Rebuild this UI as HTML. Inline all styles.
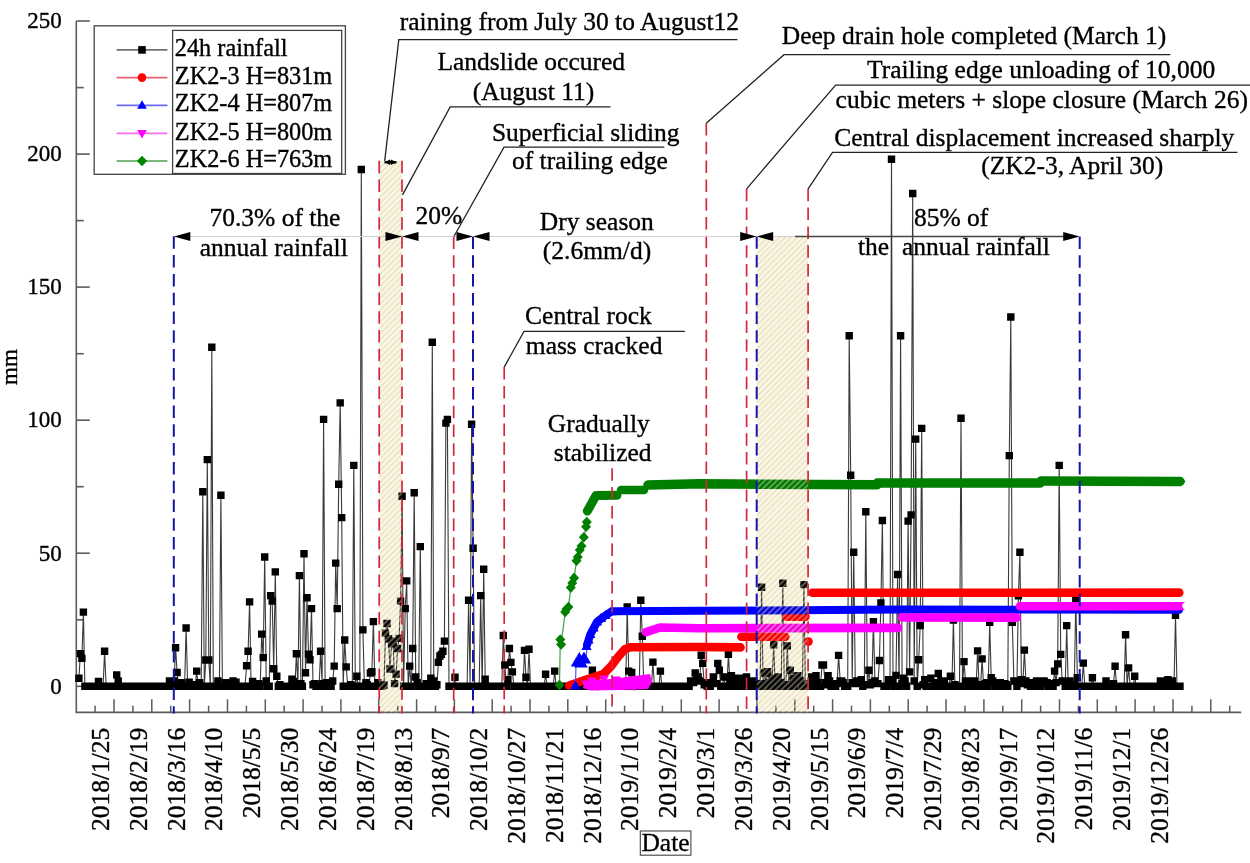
<!DOCTYPE html>
<html><head><meta charset="utf-8"><style>
html,body{margin:0;padding:0;background:#fff;width:1250px;height:863px;overflow:hidden}
svg{display:block}
text{font-family:"Liberation Serif",serif;fill:#000;stroke:#000;stroke-width:0.35px}
.an{font-size:25.5px}
.xl{font-size:25.5px}
.yl{font-size:23px}
.lg{font-size:24.3px}
</style></head><body>
<svg width="1250" height="863" viewBox="0 0 1250 863">
<rect width="1250" height="863" fill="#fff"/>
<defs>
<pattern id="hatchA" patternUnits="userSpaceOnUse" width="4.2" height="4.2" patternTransform="rotate(45)">
<rect width="4.2" height="4.2" fill="#fdfbf0"/>
<rect x="0" y="0" width="1.4" height="4.2" fill="#e9e0bc"/>
</pattern>
<pattern id="hatchB" patternUnits="userSpaceOnUse" width="4.2" height="4.2" patternTransform="rotate(45)">
<rect x="2.1" y="0" width="1.6" height="4.2" fill="#f4ecd0" fill-opacity="0.45"/>
</pattern>
</defs>
<path d="M76.3 20.9V712.4H1241.2" fill="none" stroke="#5c5c5c" stroke-width="1.6"/>
<line x1="76.3" y1="686.3" x2="89.8" y2="686.3" stroke="#5c5c5c" stroke-width="1.6"/>
<line x1="76.3" y1="619.8" x2="83.8" y2="619.8" stroke="#5c5c5c" stroke-width="1.6"/>
<line x1="76.3" y1="553.2" x2="89.8" y2="553.2" stroke="#5c5c5c" stroke-width="1.6"/>
<line x1="76.3" y1="486.7" x2="83.8" y2="486.7" stroke="#5c5c5c" stroke-width="1.6"/>
<line x1="76.3" y1="420.2" x2="89.8" y2="420.2" stroke="#5c5c5c" stroke-width="1.6"/>
<line x1="76.3" y1="353.7" x2="83.8" y2="353.7" stroke="#5c5c5c" stroke-width="1.6"/>
<line x1="76.3" y1="287.1" x2="89.8" y2="287.1" stroke="#5c5c5c" stroke-width="1.6"/>
<line x1="76.3" y1="220.6" x2="83.8" y2="220.6" stroke="#5c5c5c" stroke-width="1.6"/>
<line x1="76.3" y1="154.1" x2="89.8" y2="154.1" stroke="#5c5c5c" stroke-width="1.6"/>
<line x1="76.3" y1="87.6" x2="83.8" y2="87.6" stroke="#5c5c5c" stroke-width="1.6"/>
<line x1="76.3" y1="21.0" x2="89.8" y2="21.0" stroke="#5c5c5c" stroke-width="1.6"/>
<text x="61.8" y="693.5" text-anchor="end" class="yl">0</text>
<text x="61.8" y="560.5" text-anchor="end" class="yl">50</text>
<text x="61.8" y="427.4" text-anchor="end" class="yl">100</text>
<text x="61.8" y="294.3" text-anchor="end" class="yl">150</text>
<text x="61.8" y="161.3" text-anchor="end" class="yl">200</text>
<text x="61.8" y="28.2" text-anchor="end" class="yl">250</text>
<line x1="114.0" y1="712.4" x2="114.0" y2="699.3" stroke="#5c5c5c" stroke-width="1.5"/>
<line x1="151.8" y1="712.4" x2="151.8" y2="699.3" stroke="#5c5c5c" stroke-width="1.5"/>
<line x1="189.6" y1="712.4" x2="189.6" y2="699.3" stroke="#5c5c5c" stroke-width="1.5"/>
<line x1="227.5" y1="712.4" x2="227.5" y2="699.3" stroke="#5c5c5c" stroke-width="1.5"/>
<line x1="265.3" y1="712.4" x2="265.3" y2="699.3" stroke="#5c5c5c" stroke-width="1.5"/>
<line x1="303.1" y1="712.4" x2="303.1" y2="699.3" stroke="#5c5c5c" stroke-width="1.5"/>
<line x1="340.9" y1="712.4" x2="340.9" y2="699.3" stroke="#5c5c5c" stroke-width="1.5"/>
<line x1="378.7" y1="712.4" x2="378.7" y2="699.3" stroke="#5c5c5c" stroke-width="1.5"/>
<line x1="416.6" y1="712.4" x2="416.6" y2="699.3" stroke="#5c5c5c" stroke-width="1.5"/>
<line x1="454.4" y1="712.4" x2="454.4" y2="699.3" stroke="#5c5c5c" stroke-width="1.5"/>
<line x1="492.2" y1="712.4" x2="492.2" y2="699.3" stroke="#5c5c5c" stroke-width="1.5"/>
<line x1="530.0" y1="712.4" x2="530.0" y2="699.3" stroke="#5c5c5c" stroke-width="1.5"/>
<line x1="567.8" y1="712.4" x2="567.8" y2="699.3" stroke="#5c5c5c" stroke-width="1.5"/>
<line x1="605.7" y1="712.4" x2="605.7" y2="699.3" stroke="#5c5c5c" stroke-width="1.5"/>
<line x1="643.5" y1="712.4" x2="643.5" y2="699.3" stroke="#5c5c5c" stroke-width="1.5"/>
<line x1="681.3" y1="712.4" x2="681.3" y2="699.3" stroke="#5c5c5c" stroke-width="1.5"/>
<line x1="719.1" y1="712.4" x2="719.1" y2="699.3" stroke="#5c5c5c" stroke-width="1.5"/>
<line x1="756.9" y1="712.4" x2="756.9" y2="699.3" stroke="#5c5c5c" stroke-width="1.5"/>
<line x1="794.8" y1="712.4" x2="794.8" y2="699.3" stroke="#5c5c5c" stroke-width="1.5"/>
<line x1="832.6" y1="712.4" x2="832.6" y2="699.3" stroke="#5c5c5c" stroke-width="1.5"/>
<line x1="870.4" y1="712.4" x2="870.4" y2="699.3" stroke="#5c5c5c" stroke-width="1.5"/>
<line x1="908.2" y1="712.4" x2="908.2" y2="699.3" stroke="#5c5c5c" stroke-width="1.5"/>
<line x1="946.0" y1="712.4" x2="946.0" y2="699.3" stroke="#5c5c5c" stroke-width="1.5"/>
<line x1="983.9" y1="712.4" x2="983.9" y2="699.3" stroke="#5c5c5c" stroke-width="1.5"/>
<line x1="1021.7" y1="712.4" x2="1021.7" y2="699.3" stroke="#5c5c5c" stroke-width="1.5"/>
<line x1="1059.5" y1="712.4" x2="1059.5" y2="699.3" stroke="#5c5c5c" stroke-width="1.5"/>
<line x1="1097.3" y1="712.4" x2="1097.3" y2="699.3" stroke="#5c5c5c" stroke-width="1.5"/>
<line x1="1135.1" y1="712.4" x2="1135.1" y2="699.3" stroke="#5c5c5c" stroke-width="1.5"/>
<line x1="1173.0" y1="712.4" x2="1173.0" y2="699.3" stroke="#5c5c5c" stroke-width="1.5"/>
<line x1="1210.8" y1="712.4" x2="1210.8" y2="699.3" stroke="#5c5c5c" stroke-width="1.5"/>
<line x1="95.1" y1="712.4" x2="95.1" y2="705.7" stroke="#5c5c5c" stroke-width="1.5"/>
<line x1="132.9" y1="712.4" x2="132.9" y2="705.7" stroke="#5c5c5c" stroke-width="1.5"/>
<line x1="170.7" y1="712.4" x2="170.7" y2="705.7" stroke="#5c5c5c" stroke-width="1.5"/>
<line x1="208.6" y1="712.4" x2="208.6" y2="705.7" stroke="#5c5c5c" stroke-width="1.5"/>
<line x1="246.4" y1="712.4" x2="246.4" y2="705.7" stroke="#5c5c5c" stroke-width="1.5"/>
<line x1="284.2" y1="712.4" x2="284.2" y2="705.7" stroke="#5c5c5c" stroke-width="1.5"/>
<line x1="322.0" y1="712.4" x2="322.0" y2="705.7" stroke="#5c5c5c" stroke-width="1.5"/>
<line x1="359.8" y1="712.4" x2="359.8" y2="705.7" stroke="#5c5c5c" stroke-width="1.5"/>
<line x1="397.7" y1="712.4" x2="397.7" y2="705.7" stroke="#5c5c5c" stroke-width="1.5"/>
<line x1="435.5" y1="712.4" x2="435.5" y2="705.7" stroke="#5c5c5c" stroke-width="1.5"/>
<line x1="473.3" y1="712.4" x2="473.3" y2="705.7" stroke="#5c5c5c" stroke-width="1.5"/>
<line x1="511.1" y1="712.4" x2="511.1" y2="705.7" stroke="#5c5c5c" stroke-width="1.5"/>
<line x1="548.9" y1="712.4" x2="548.9" y2="705.7" stroke="#5c5c5c" stroke-width="1.5"/>
<line x1="586.8" y1="712.4" x2="586.8" y2="705.7" stroke="#5c5c5c" stroke-width="1.5"/>
<line x1="624.6" y1="712.4" x2="624.6" y2="705.7" stroke="#5c5c5c" stroke-width="1.5"/>
<line x1="662.4" y1="712.4" x2="662.4" y2="705.7" stroke="#5c5c5c" stroke-width="1.5"/>
<line x1="700.2" y1="712.4" x2="700.2" y2="705.7" stroke="#5c5c5c" stroke-width="1.5"/>
<line x1="738.0" y1="712.4" x2="738.0" y2="705.7" stroke="#5c5c5c" stroke-width="1.5"/>
<line x1="775.9" y1="712.4" x2="775.9" y2="705.7" stroke="#5c5c5c" stroke-width="1.5"/>
<line x1="813.7" y1="712.4" x2="813.7" y2="705.7" stroke="#5c5c5c" stroke-width="1.5"/>
<line x1="851.5" y1="712.4" x2="851.5" y2="705.7" stroke="#5c5c5c" stroke-width="1.5"/>
<line x1="889.3" y1="712.4" x2="889.3" y2="705.7" stroke="#5c5c5c" stroke-width="1.5"/>
<line x1="927.1" y1="712.4" x2="927.1" y2="705.7" stroke="#5c5c5c" stroke-width="1.5"/>
<line x1="965.0" y1="712.4" x2="965.0" y2="705.7" stroke="#5c5c5c" stroke-width="1.5"/>
<line x1="1002.8" y1="712.4" x2="1002.8" y2="705.7" stroke="#5c5c5c" stroke-width="1.5"/>
<line x1="1040.6" y1="712.4" x2="1040.6" y2="705.7" stroke="#5c5c5c" stroke-width="1.5"/>
<line x1="1078.4" y1="712.4" x2="1078.4" y2="705.7" stroke="#5c5c5c" stroke-width="1.5"/>
<line x1="1116.2" y1="712.4" x2="1116.2" y2="705.7" stroke="#5c5c5c" stroke-width="1.5"/>
<line x1="1154.1" y1="712.4" x2="1154.1" y2="705.7" stroke="#5c5c5c" stroke-width="1.5"/>
<line x1="1191.9" y1="712.4" x2="1191.9" y2="705.7" stroke="#5c5c5c" stroke-width="1.5"/>
<line x1="1229.7" y1="712.4" x2="1229.7" y2="705.7" stroke="#5c5c5c" stroke-width="1.5"/>
<text transform="translate(108.9,727.7) rotate(-90)" text-anchor="end" class="xl">2018/1/25</text>
<text transform="translate(146.7,727.7) rotate(-90)" text-anchor="end" class="xl">2018/2/19</text>
<text transform="translate(184.5,727.7) rotate(-90)" text-anchor="end" class="xl">2018/3/16</text>
<text transform="translate(222.4,727.7) rotate(-90)" text-anchor="end" class="xl">2018/4/10</text>
<text transform="translate(260.2,727.7) rotate(-90)" text-anchor="end" class="xl">2018/5/5</text>
<text transform="translate(298.0,727.7) rotate(-90)" text-anchor="end" class="xl">2018/5/30</text>
<text transform="translate(335.8,727.7) rotate(-90)" text-anchor="end" class="xl">2018/6/24</text>
<text transform="translate(373.6,727.7) rotate(-90)" text-anchor="end" class="xl">2018/7/19</text>
<text transform="translate(411.5,727.7) rotate(-90)" text-anchor="end" class="xl">2018/8/13</text>
<text transform="translate(449.3,727.7) rotate(-90)" text-anchor="end" class="xl">2018/9/7</text>
<text transform="translate(487.1,727.7) rotate(-90)" text-anchor="end" class="xl">2018/10/2</text>
<text transform="translate(524.9,727.7) rotate(-90)" text-anchor="end" class="xl">2018/10/27</text>
<text transform="translate(562.7,727.7) rotate(-90)" text-anchor="end" class="xl">2018/11/21</text>
<text transform="translate(600.6,727.7) rotate(-90)" text-anchor="end" class="xl">2018/12/16</text>
<text transform="translate(638.4,727.7) rotate(-90)" text-anchor="end" class="xl">2019/1/10</text>
<text transform="translate(676.2,727.7) rotate(-90)" text-anchor="end" class="xl">2019/2/4</text>
<text transform="translate(714.0,727.7) rotate(-90)" text-anchor="end" class="xl">2019/3/1</text>
<text transform="translate(751.8,727.7) rotate(-90)" text-anchor="end" class="xl">2019/3/26</text>
<text transform="translate(789.7,727.7) rotate(-90)" text-anchor="end" class="xl">2019/4/20</text>
<text transform="translate(827.5,727.7) rotate(-90)" text-anchor="end" class="xl">2019/5/15</text>
<text transform="translate(865.3,727.7) rotate(-90)" text-anchor="end" class="xl">2019/6/9</text>
<text transform="translate(903.1,727.7) rotate(-90)" text-anchor="end" class="xl">2019/7/4</text>
<text transform="translate(940.9,727.7) rotate(-90)" text-anchor="end" class="xl">2019/7/29</text>
<text transform="translate(978.8,727.7) rotate(-90)" text-anchor="end" class="xl">2019/8/23</text>
<text transform="translate(1016.6,727.7) rotate(-90)" text-anchor="end" class="xl">2019/9/17</text>
<text transform="translate(1054.4,727.7) rotate(-90)" text-anchor="end" class="xl">2019/10/12</text>
<text transform="translate(1092.2,727.7) rotate(-90)" text-anchor="end" class="xl">2019/11/6</text>
<text transform="translate(1130.0,727.7) rotate(-90)" text-anchor="end" class="xl">2019/12/1</text>
<text transform="translate(1167.9,727.7) rotate(-90)" text-anchor="end" class="xl">2019/12/26</text>
<text transform="translate(17,367) rotate(-90)" text-anchor="middle" class="yl">mm</text>
<rect x="640.3" y="831" width="50.6" height="24.2" fill="none" stroke="#444" stroke-width="1.1"/>
<text x="665.5" y="851" text-anchor="middle" class="an">Date</text>
<polyline points="78.9,678.3 80.4,653.6 81.9,658.4 83.4,612.1 84.9,686.3 86.5,686.3 88.0,686.3 89.5,686.3 91.0,686.3 92.5,686.3 94.0,686.3 95.5,686.3 97.0,686.3 98.5,681.5 100.0,686.3 101.6,686.3 103.1,686.3 104.6,651.2 106.1,686.3 107.6,686.3 109.1,686.3 110.6,686.3 112.1,686.3 113.6,686.3 115.2,686.3 116.7,674.9 118.2,681.0 119.7,686.3 121.2,686.3 122.7,686.3 124.2,686.3 125.7,686.3 127.2,686.3 128.7,686.3 130.3,686.3 131.8,686.3 133.3,686.3 134.8,686.3 136.3,686.3 137.8,686.3 139.3,686.3 140.8,686.3 142.3,686.3 143.8,686.3 145.4,686.3 146.9,686.3 148.4,686.3 149.9,686.3 151.4,686.3 152.9,686.3 154.4,686.3 155.9,686.3 157.4,686.3 159.0,686.3 160.5,686.3 162.0,686.3 163.5,686.3 165.0,686.3 166.5,686.3 168.0,686.3 169.5,681.0 171.0,686.3 172.5,686.3 174.1,681.0 175.6,647.7 177.1,672.5 178.6,686.3 180.1,686.3 181.6,682.6 183.1,686.3 184.6,686.3 186.1,628.0 187.7,686.3 189.2,682.3 190.7,686.3 192.2,684.7 193.7,686.3 195.2,686.3 196.7,671.1 198.2,686.3 199.7,682.6 201.2,686.3 202.8,491.8 204.3,686.3 205.8,660.0 207.3,459.6 208.8,660.0 210.3,686.3 211.8,347.3 213.3,686.3 214.8,686.3 216.3,686.3 217.9,681.0 219.4,686.3 220.9,495.2 222.4,686.3 223.9,686.3 225.4,682.6 226.9,683.6 228.4,686.3 229.9,686.3 231.5,686.3 233.0,681.0 234.5,686.3 236.0,682.3 237.5,686.3 239.0,686.3 240.5,686.3 242.0,686.3 243.5,686.3 245.0,686.3 246.6,665.8 248.1,651.2 249.6,601.9 251.1,686.3 252.6,681.5 254.1,686.3 255.6,683.6 257.1,683.6 258.6,683.6 260.2,686.3 261.7,634.1 263.2,657.6 264.7,557.0 266.2,681.0 267.7,686.3 269.2,686.3 270.7,595.6 272.2,601.1 273.7,668.7 275.3,571.9 276.8,676.2 278.3,686.3 279.8,684.7 281.3,686.3 282.8,686.3 284.3,686.3 285.8,686.3 287.3,686.3 288.8,686.3 290.4,686.3 291.9,679.1 293.4,681.5 294.9,686.3 296.4,653.8 297.9,686.3 299.4,575.6 300.9,683.6 302.4,686.3 304.0,553.8 305.5,672.7 307.0,597.7 308.5,654.1 310.0,659.7 311.5,608.6 313.0,684.7 314.5,683.6 316.0,686.3 317.5,686.3 319.1,686.3 320.6,651.2 322.1,683.6 323.6,419.4 325.1,686.3 326.6,682.6 328.1,686.3 329.6,686.3 331.1,686.3 332.7,681.0 334.2,666.1 335.7,563.1 337.2,608.6 338.7,484.3 340.2,402.9 341.7,517.6 343.2,686.3 344.7,640.0 346.2,666.9 347.8,686.3 349.3,686.3 350.8,684.7 352.3,686.3 353.8,465.4 355.3,686.3 356.8,676.2 358.3,686.3 359.8,686.3 361.3,169.5 362.9,629.9 364.4,686.3 365.9,682.6 367.4,684.7 368.9,686.3 370.4,673.0 371.9,671.7 373.4,621.6 374.9,686.3 376.5,686.3 378.0,682.6 379.5,686.3 381.0,686.3 382.5,685.5 384.0,685.0 385.5,633.1 387.0,623.5 388.5,638.7 390.0,669.0 391.6,643.7 393.1,641.1 394.6,683.6 396.1,674.1 397.6,648.5 399.1,638.4 400.6,601.1 402.1,496.3 403.6,686.3 405.2,608.6 406.7,580.9 408.2,686.3 409.7,666.1 411.2,686.3 412.7,648.5 414.2,492.8 415.7,677.0 417.2,682.6 418.7,686.3 420.3,546.6 421.8,686.3 423.3,686.3 424.8,686.3 426.3,683.6 427.8,686.3 429.3,686.3 430.8,678.3 432.3,342.2 433.8,681.0 435.4,686.3 436.9,684.7 438.4,662.4 439.9,656.0 441.4,654.4 442.9,651.2 444.4,641.1 445.9,423.1 447.4,419.4 449.0,686.3 450.5,686.3 452.0,686.3 453.5,686.3 455.0,677.3 456.5,686.3 458.0,686.3 459.5,686.3 461.0,686.3 462.5,686.3 464.1,686.3 465.6,686.3 467.1,686.3 468.6,600.3 470.1,686.3 471.6,424.2 473.1,548.2 474.6,686.3 476.1,686.3 477.7,686.3 479.2,686.3 480.7,595.6 482.2,686.3 483.7,569.2 485.2,679.1 486.7,686.3 488.2,686.3 489.7,686.3 491.2,686.3 492.8,686.3 494.3,686.3 495.8,686.3 497.3,686.3 498.8,686.3 500.3,686.3 501.8,686.3 503.3,635.5 504.8,665.0 506.4,686.3 507.9,679.6 509.4,648.5 510.9,662.4 512.4,671.9 513.9,686.3 515.4,686.3 516.9,686.3 518.4,686.3 519.9,686.3 521.5,686.3 523.0,686.3 524.5,650.4 526.0,677.3 527.5,686.3 529.0,649.3 530.5,686.3 532.0,686.3 533.5,686.3 535.0,686.3 536.6,686.3 538.1,686.3 539.6,686.3 541.1,686.3 542.6,686.3 544.1,686.3 545.6,674.3 547.1,686.3 548.6,686.3 550.2,686.3 551.7,686.3 553.2,686.3 554.7,671.1 556.2,686.3 557.7,686.3 559.2,686.3 560.7,686.3 562.2,686.3 563.7,686.3 565.3,686.3 566.8,686.3 568.3,686.3 569.8,686.3 571.3,686.3 572.8,686.3 574.3,686.3 575.8,686.3 577.3,686.3 578.9,686.3 580.4,686.3 581.9,686.3 583.4,686.3 584.9,686.3 586.4,686.3 587.9,686.3 589.4,686.3 590.9,686.3 592.4,670.3 594.0,686.3 595.5,686.3 597.0,686.3 598.5,686.3 600.0,686.3 601.5,686.3 603.0,686.3 604.5,686.3 606.0,686.3 607.5,686.3 609.1,686.3 610.6,686.3 612.1,686.3 613.6,686.3 615.1,686.3 616.6,686.3 618.1,686.3 619.6,686.3 621.1,686.3 622.7,686.3 624.2,686.3 625.7,686.3 627.2,607.0 628.7,671.1 630.2,686.3 631.7,672.5 633.2,686.3 634.7,686.3 636.2,686.3 637.8,686.3 639.3,686.3 640.8,600.3 642.3,636.3 643.8,686.3 645.3,686.3 646.8,686.3 648.3,686.3 649.8,686.3 651.4,686.3 652.9,662.1 654.4,686.3 655.9,686.3 657.4,686.3 658.9,686.3 660.4,671.1 661.9,686.3 663.4,686.3 664.9,686.3 666.5,686.3 668.0,686.3 669.5,686.3 671.0,686.3 672.5,686.3 674.0,686.3 675.5,686.3 677.0,686.3 678.5,686.3 680.0,686.3 681.6,686.3 683.1,686.3 684.6,686.3 686.1,686.3 687.6,686.3 689.1,686.3 690.6,681.0 692.1,682.6 693.6,682.6 695.2,673.0 696.7,678.3 698.2,677.0 699.7,681.0 701.2,655.2 702.7,663.4 704.2,684.7 705.7,682.6 707.2,686.3 708.7,683.6 710.3,686.3 711.8,682.6 713.3,677.0 714.8,683.6 716.3,683.6 717.8,663.4 719.3,670.3 720.8,686.3 722.3,686.3 723.9,677.0 725.4,686.3 726.9,686.3 728.4,654.4 729.9,681.0 731.4,675.7 732.9,686.3 734.4,684.7 735.9,678.3 737.4,686.3 739.0,684.7 740.5,684.7 742.0,678.3 743.5,686.3 745.0,686.3 746.5,677.0 748.0,683.6 749.5,684.7 751.0,686.3 752.5,681.0 754.1,681.0 755.6,686.3 757.1,683.6 758.6,683.6 760.1,686.3 761.6,587.3 763.1,686.3 764.6,673.0 766.1,683.6 767.7,671.7 769.2,682.6 770.7,686.3 772.2,678.3 773.7,644.8 775.2,686.3 776.7,681.0 778.2,677.0 779.7,686.3 781.2,682.6 782.8,583.3 784.3,686.3 785.8,686.3 787.3,645.9 788.8,684.7 790.3,670.3 791.8,686.3 793.3,678.3 794.8,686.3 796.4,681.0 797.9,675.7 799.4,681.0 800.9,681.0 802.4,686.3 803.9,584.6 805.4,686.3 806.9,686.3 808.4,686.3 809.9,683.6 811.5,677.0 813.0,686.3 814.5,683.6 816.0,675.7 817.5,682.6 819.0,686.3 820.5,686.3 822.0,665.0 823.5,665.0 825.1,682.6 826.6,684.7 828.1,675.7 829.6,681.0 831.1,686.3 832.6,686.3 834.1,683.6 835.6,686.3 837.1,683.6 838.6,655.4 840.2,681.0 841.7,681.0 843.2,682.6 844.7,686.3 846.2,686.3 847.7,686.3 849.2,335.8 850.7,475.3 852.2,682.6 853.7,552.2 855.3,683.6 856.8,681.0 858.3,681.0 859.8,682.6 861.3,679.6 862.8,686.3 864.3,684.7 865.8,511.7 867.3,684.7 868.9,670.3 870.4,684.7 871.9,682.6 873.4,621.6 874.9,681.0 876.4,683.6 877.9,683.6 879.4,660.5 880.9,603.0 882.4,520.5 884.0,686.3 885.5,686.3 887.0,686.3 888.5,679.6 890.0,682.6 891.5,159.2 893.0,681.0 894.5,686.3 896.0,675.4 897.6,574.5 899.1,686.3 900.6,335.8 902.1,683.6 903.6,678.3 905.1,681.0 906.6,686.3 908.1,521.1 909.6,671.9 911.1,514.9 912.7,193.5 914.2,681.0 915.7,439.1 917.2,686.3 918.7,659.7 920.2,625.6 921.7,428.4 923.2,684.7 924.7,679.6 926.2,686.3 927.8,686.3 929.3,686.3 930.8,678.3 932.3,686.3 933.8,686.3 935.3,684.7 936.8,682.6 938.3,673.5 939.8,686.3 941.4,681.0 942.9,686.3 944.4,681.0 945.9,686.3 947.4,686.3 948.9,686.3 950.4,676.2 951.9,686.3 953.4,620.0 954.9,684.7 956.5,686.3 958.0,686.3 959.5,686.3 961.0,418.3 962.5,686.3 964.0,661.6 965.5,681.0 967.0,684.7 968.5,686.3 970.1,683.6 971.6,681.0 973.1,686.3 974.6,681.0 976.1,686.3 977.6,650.9 979.1,684.7 980.6,686.3 982.1,658.9 983.6,686.3 985.2,683.6 986.7,682.6 988.2,686.3 989.7,622.4 991.2,677.8 992.7,681.0 994.2,682.6 995.7,686.3 997.2,683.6 998.7,686.3 1000.3,682.6 1001.8,686.3 1003.3,686.3 1004.8,683.6 1006.3,684.7 1007.8,686.3 1009.3,455.6 1010.8,317.0 1012.3,622.4 1013.9,681.0 1015.4,681.0 1016.9,686.3 1018.4,595.8 1019.9,552.2 1021.4,679.6 1022.9,683.6 1024.4,650.1 1025.9,681.0 1027.4,684.7 1029.0,682.6 1030.5,686.3 1032.0,682.6 1033.5,686.3 1035.0,686.3 1036.5,681.0 1038.0,683.6 1039.5,681.0 1041.0,686.3 1042.6,683.6 1044.1,681.0 1045.6,682.6 1047.1,682.6 1048.6,686.3 1050.1,683.6 1051.6,686.3 1053.1,686.3 1054.6,671.1 1056.1,682.6 1057.7,663.9 1059.2,465.4 1060.7,654.4 1062.2,681.0 1063.7,681.0 1065.2,686.3 1066.7,625.6 1068.2,686.3 1069.7,681.0 1071.2,686.3 1072.8,686.3 1074.3,684.7 1075.8,599.0 1077.3,677.8 1078.8,686.3 1080.3,686.3 1081.8,686.3 1083.3,663.1 1084.8,686.3 1086.4,686.3 1087.9,686.3 1089.4,686.3 1090.9,686.3 1092.4,677.8 1093.9,686.3 1095.4,686.3 1096.9,686.3 1098.4,686.3 1099.9,686.3 1101.5,686.3 1103.0,686.3 1104.5,686.3 1106.0,681.0 1107.5,686.3 1109.0,686.3 1110.5,686.3 1112.0,686.3 1113.5,683.6 1115.1,666.3 1116.6,686.3 1118.1,686.3 1119.6,686.3 1121.1,686.3 1122.6,686.3 1124.1,686.3 1125.6,634.7 1127.1,686.3 1128.6,667.9 1130.2,686.3 1131.7,686.3 1133.2,686.3 1134.7,676.2 1136.2,686.3 1137.7,686.3 1139.2,686.3 1140.7,686.3 1142.2,686.3 1143.7,686.3 1145.3,686.3 1146.8,686.3 1148.3,686.3 1149.8,686.3 1151.3,686.3 1152.8,686.3 1154.3,686.3 1155.8,686.3 1157.3,686.3 1158.9,686.3 1160.4,681.0 1161.9,686.3 1163.4,686.3 1164.9,681.0 1166.4,686.3 1167.9,679.6 1169.4,686.3 1170.9,686.3 1172.4,681.0 1174.0,686.3 1175.5,615.3 1177.0,686.3 1178.5,686.3 1180.0,686.3" fill="none" stroke="#3a3a3a" stroke-width="1.1"/>
<path d="M75.2 674.6h7.4v7.4h-7.4zM76.7 649.9h7.4v7.4h-7.4zM78.2 654.7h7.4v7.4h-7.4zM79.7 608.4h7.4v7.4h-7.4zM81.2 682.6h7.4v7.4h-7.4zM82.8 682.6h7.4v7.4h-7.4zM84.3 682.6h7.4v7.4h-7.4zM85.8 682.6h7.4v7.4h-7.4zM87.3 682.6h7.4v7.4h-7.4zM88.8 682.6h7.4v7.4h-7.4zM90.3 682.6h7.4v7.4h-7.4zM91.8 682.6h7.4v7.4h-7.4zM93.3 682.6h7.4v7.4h-7.4zM94.8 677.8h7.4v7.4h-7.4zM96.3 682.6h7.4v7.4h-7.4zM97.9 682.6h7.4v7.4h-7.4zM99.4 682.6h7.4v7.4h-7.4zM100.9 647.5h7.4v7.4h-7.4zM102.4 682.6h7.4v7.4h-7.4zM103.9 682.6h7.4v7.4h-7.4zM105.4 682.6h7.4v7.4h-7.4zM106.9 682.6h7.4v7.4h-7.4zM108.4 682.6h7.4v7.4h-7.4zM109.9 682.6h7.4v7.4h-7.4zM111.5 682.6h7.4v7.4h-7.4zM113.0 671.2h7.4v7.4h-7.4zM114.5 677.3h7.4v7.4h-7.4zM116.0 682.6h7.4v7.4h-7.4zM117.5 682.6h7.4v7.4h-7.4zM119.0 682.6h7.4v7.4h-7.4zM120.5 682.6h7.4v7.4h-7.4zM122.0 682.6h7.4v7.4h-7.4zM123.5 682.6h7.4v7.4h-7.4zM125.0 682.6h7.4v7.4h-7.4zM126.6 682.6h7.4v7.4h-7.4zM128.1 682.6h7.4v7.4h-7.4zM129.6 682.6h7.4v7.4h-7.4zM131.1 682.6h7.4v7.4h-7.4zM132.6 682.6h7.4v7.4h-7.4zM134.1 682.6h7.4v7.4h-7.4zM135.6 682.6h7.4v7.4h-7.4zM137.1 682.6h7.4v7.4h-7.4zM138.6 682.6h7.4v7.4h-7.4zM140.1 682.6h7.4v7.4h-7.4zM141.7 682.6h7.4v7.4h-7.4zM143.2 682.6h7.4v7.4h-7.4zM144.7 682.6h7.4v7.4h-7.4zM146.2 682.6h7.4v7.4h-7.4zM147.7 682.6h7.4v7.4h-7.4zM149.2 682.6h7.4v7.4h-7.4zM150.7 682.6h7.4v7.4h-7.4zM152.2 682.6h7.4v7.4h-7.4zM153.7 682.6h7.4v7.4h-7.4zM155.3 682.6h7.4v7.4h-7.4zM156.8 682.6h7.4v7.4h-7.4zM158.3 682.6h7.4v7.4h-7.4zM159.8 682.6h7.4v7.4h-7.4zM161.3 682.6h7.4v7.4h-7.4zM162.8 682.6h7.4v7.4h-7.4zM164.3 682.6h7.4v7.4h-7.4zM165.8 677.3h7.4v7.4h-7.4zM167.3 682.6h7.4v7.4h-7.4zM168.8 682.6h7.4v7.4h-7.4zM170.4 677.3h7.4v7.4h-7.4zM171.9 644.0h7.4v7.4h-7.4zM173.4 668.8h7.4v7.4h-7.4zM174.9 682.6h7.4v7.4h-7.4zM176.4 682.6h7.4v7.4h-7.4zM177.9 678.9h7.4v7.4h-7.4zM179.4 682.6h7.4v7.4h-7.4zM180.9 682.6h7.4v7.4h-7.4zM182.4 624.3h7.4v7.4h-7.4zM184.0 682.6h7.4v7.4h-7.4zM185.5 678.6h7.4v7.4h-7.4zM187.0 682.6h7.4v7.4h-7.4zM188.5 681.0h7.4v7.4h-7.4zM190.0 682.6h7.4v7.4h-7.4zM191.5 682.6h7.4v7.4h-7.4zM193.0 667.4h7.4v7.4h-7.4zM194.5 682.6h7.4v7.4h-7.4zM196.0 678.9h7.4v7.4h-7.4zM197.5 682.6h7.4v7.4h-7.4zM199.1 488.1h7.4v7.4h-7.4zM200.6 682.6h7.4v7.4h-7.4zM202.1 656.3h7.4v7.4h-7.4zM203.6 455.9h7.4v7.4h-7.4zM205.1 656.3h7.4v7.4h-7.4zM206.6 682.6h7.4v7.4h-7.4zM208.1 343.6h7.4v7.4h-7.4zM209.6 682.6h7.4v7.4h-7.4zM211.1 682.6h7.4v7.4h-7.4zM212.6 682.6h7.4v7.4h-7.4zM214.2 677.3h7.4v7.4h-7.4zM215.7 682.6h7.4v7.4h-7.4zM217.2 491.5h7.4v7.4h-7.4zM218.7 682.6h7.4v7.4h-7.4zM220.2 682.6h7.4v7.4h-7.4zM221.7 678.9h7.4v7.4h-7.4zM223.2 679.9h7.4v7.4h-7.4zM224.7 682.6h7.4v7.4h-7.4zM226.2 682.6h7.4v7.4h-7.4zM227.8 682.6h7.4v7.4h-7.4zM229.3 677.3h7.4v7.4h-7.4zM230.8 682.6h7.4v7.4h-7.4zM232.3 678.6h7.4v7.4h-7.4zM233.8 682.6h7.4v7.4h-7.4zM235.3 682.6h7.4v7.4h-7.4zM236.8 682.6h7.4v7.4h-7.4zM238.3 682.6h7.4v7.4h-7.4zM239.8 682.6h7.4v7.4h-7.4zM241.3 682.6h7.4v7.4h-7.4zM242.9 662.1h7.4v7.4h-7.4zM244.4 647.5h7.4v7.4h-7.4zM245.9 598.2h7.4v7.4h-7.4zM247.4 682.6h7.4v7.4h-7.4zM248.9 677.8h7.4v7.4h-7.4zM250.4 682.6h7.4v7.4h-7.4zM251.9 679.9h7.4v7.4h-7.4zM253.4 679.9h7.4v7.4h-7.4zM254.9 679.9h7.4v7.4h-7.4zM256.5 682.6h7.4v7.4h-7.4zM258.0 630.4h7.4v7.4h-7.4zM259.5 653.9h7.4v7.4h-7.4zM261.0 553.3h7.4v7.4h-7.4zM262.5 677.3h7.4v7.4h-7.4zM264.0 682.6h7.4v7.4h-7.4zM265.5 682.6h7.4v7.4h-7.4zM267.0 591.9h7.4v7.4h-7.4zM268.5 597.4h7.4v7.4h-7.4zM270.0 665.0h7.4v7.4h-7.4zM271.6 568.2h7.4v7.4h-7.4zM273.1 672.5h7.4v7.4h-7.4zM274.6 682.6h7.4v7.4h-7.4zM276.1 681.0h7.4v7.4h-7.4zM277.6 682.6h7.4v7.4h-7.4zM279.1 682.6h7.4v7.4h-7.4zM280.6 682.6h7.4v7.4h-7.4zM282.1 682.6h7.4v7.4h-7.4zM283.6 682.6h7.4v7.4h-7.4zM285.1 682.6h7.4v7.4h-7.4zM286.7 682.6h7.4v7.4h-7.4zM288.2 675.4h7.4v7.4h-7.4zM289.7 677.8h7.4v7.4h-7.4zM291.2 682.6h7.4v7.4h-7.4zM292.7 650.1h7.4v7.4h-7.4zM294.2 682.6h7.4v7.4h-7.4zM295.7 571.9h7.4v7.4h-7.4zM297.2 679.9h7.4v7.4h-7.4zM298.7 682.6h7.4v7.4h-7.4zM300.3 550.1h7.4v7.4h-7.4zM301.8 669.0h7.4v7.4h-7.4zM303.3 594.0h7.4v7.4h-7.4zM304.8 650.4h7.4v7.4h-7.4zM306.3 656.0h7.4v7.4h-7.4zM307.8 604.9h7.4v7.4h-7.4zM309.3 681.0h7.4v7.4h-7.4zM310.8 679.9h7.4v7.4h-7.4zM312.3 682.6h7.4v7.4h-7.4zM313.8 682.6h7.4v7.4h-7.4zM315.4 682.6h7.4v7.4h-7.4zM316.9 647.5h7.4v7.4h-7.4zM318.4 679.9h7.4v7.4h-7.4zM319.9 415.7h7.4v7.4h-7.4zM321.4 682.6h7.4v7.4h-7.4zM322.9 678.9h7.4v7.4h-7.4zM324.4 682.6h7.4v7.4h-7.4zM325.9 682.6h7.4v7.4h-7.4zM327.4 682.6h7.4v7.4h-7.4zM329.0 677.3h7.4v7.4h-7.4zM330.5 662.4h7.4v7.4h-7.4zM332.0 559.4h7.4v7.4h-7.4zM333.5 604.9h7.4v7.4h-7.4zM335.0 480.6h7.4v7.4h-7.4zM336.5 399.2h7.4v7.4h-7.4zM338.0 513.9h7.4v7.4h-7.4zM339.5 682.6h7.4v7.4h-7.4zM341.0 636.3h7.4v7.4h-7.4zM342.5 663.2h7.4v7.4h-7.4zM344.1 682.6h7.4v7.4h-7.4zM345.6 682.6h7.4v7.4h-7.4zM347.1 681.0h7.4v7.4h-7.4zM348.6 682.6h7.4v7.4h-7.4zM350.1 461.7h7.4v7.4h-7.4zM351.6 682.6h7.4v7.4h-7.4zM353.1 672.5h7.4v7.4h-7.4zM354.6 682.6h7.4v7.4h-7.4zM356.1 682.6h7.4v7.4h-7.4zM357.6 165.8h7.4v7.4h-7.4zM359.2 626.2h7.4v7.4h-7.4zM360.7 682.6h7.4v7.4h-7.4zM362.2 678.9h7.4v7.4h-7.4zM363.7 681.0h7.4v7.4h-7.4zM365.2 682.6h7.4v7.4h-7.4zM366.7 669.3h7.4v7.4h-7.4zM368.2 668.0h7.4v7.4h-7.4zM369.7 617.9h7.4v7.4h-7.4zM371.2 682.6h7.4v7.4h-7.4zM372.8 682.6h7.4v7.4h-7.4zM374.3 678.9h7.4v7.4h-7.4zM375.8 682.6h7.4v7.4h-7.4zM377.3 682.6h7.4v7.4h-7.4zM378.8 681.8h7.4v7.4h-7.4zM380.3 681.3h7.4v7.4h-7.4zM381.8 629.4h7.4v7.4h-7.4zM383.3 619.8h7.4v7.4h-7.4zM384.8 635.0h7.4v7.4h-7.4zM386.3 665.3h7.4v7.4h-7.4zM387.9 640.0h7.4v7.4h-7.4zM389.4 637.4h7.4v7.4h-7.4zM390.9 679.9h7.4v7.4h-7.4zM392.4 670.4h7.4v7.4h-7.4zM393.9 644.8h7.4v7.4h-7.4zM395.4 634.7h7.4v7.4h-7.4zM396.9 597.4h7.4v7.4h-7.4zM398.4 492.6h7.4v7.4h-7.4zM399.9 682.6h7.4v7.4h-7.4zM401.5 604.9h7.4v7.4h-7.4zM403.0 577.2h7.4v7.4h-7.4zM404.5 682.6h7.4v7.4h-7.4zM406.0 662.4h7.4v7.4h-7.4zM407.5 682.6h7.4v7.4h-7.4zM409.0 644.8h7.4v7.4h-7.4zM410.5 489.1h7.4v7.4h-7.4zM412.0 673.3h7.4v7.4h-7.4zM413.5 678.9h7.4v7.4h-7.4zM415.0 682.6h7.4v7.4h-7.4zM416.6 542.9h7.4v7.4h-7.4zM418.1 682.6h7.4v7.4h-7.4zM419.6 682.6h7.4v7.4h-7.4zM421.1 682.6h7.4v7.4h-7.4zM422.6 679.9h7.4v7.4h-7.4zM424.1 682.6h7.4v7.4h-7.4zM425.6 682.6h7.4v7.4h-7.4zM427.1 674.6h7.4v7.4h-7.4zM428.6 338.5h7.4v7.4h-7.4zM430.1 677.3h7.4v7.4h-7.4zM431.7 682.6h7.4v7.4h-7.4zM433.2 681.0h7.4v7.4h-7.4zM434.7 658.7h7.4v7.4h-7.4zM436.2 652.3h7.4v7.4h-7.4zM437.7 650.7h7.4v7.4h-7.4zM439.2 647.5h7.4v7.4h-7.4zM440.7 637.4h7.4v7.4h-7.4zM442.2 419.4h7.4v7.4h-7.4zM443.7 415.7h7.4v7.4h-7.4zM445.3 682.6h7.4v7.4h-7.4zM446.8 682.6h7.4v7.4h-7.4zM448.3 682.6h7.4v7.4h-7.4zM449.8 682.6h7.4v7.4h-7.4zM451.3 673.6h7.4v7.4h-7.4zM452.8 682.6h7.4v7.4h-7.4zM454.3 682.6h7.4v7.4h-7.4zM455.8 682.6h7.4v7.4h-7.4zM457.3 682.6h7.4v7.4h-7.4zM458.8 682.6h7.4v7.4h-7.4zM460.4 682.6h7.4v7.4h-7.4zM461.9 682.6h7.4v7.4h-7.4zM463.4 682.6h7.4v7.4h-7.4zM464.9 596.6h7.4v7.4h-7.4zM466.4 682.6h7.4v7.4h-7.4zM467.9 420.5h7.4v7.4h-7.4zM469.4 544.5h7.4v7.4h-7.4zM470.9 682.6h7.4v7.4h-7.4zM472.4 682.6h7.4v7.4h-7.4zM474.0 682.6h7.4v7.4h-7.4zM475.5 682.6h7.4v7.4h-7.4zM477.0 591.9h7.4v7.4h-7.4zM478.5 682.6h7.4v7.4h-7.4zM480.0 565.5h7.4v7.4h-7.4zM481.5 675.4h7.4v7.4h-7.4zM483.0 682.6h7.4v7.4h-7.4zM484.5 682.6h7.4v7.4h-7.4zM486.0 682.6h7.4v7.4h-7.4zM487.5 682.6h7.4v7.4h-7.4zM489.1 682.6h7.4v7.4h-7.4zM490.6 682.6h7.4v7.4h-7.4zM492.1 682.6h7.4v7.4h-7.4zM493.6 682.6h7.4v7.4h-7.4zM495.1 682.6h7.4v7.4h-7.4zM496.6 682.6h7.4v7.4h-7.4zM498.1 682.6h7.4v7.4h-7.4zM499.6 631.8h7.4v7.4h-7.4zM501.1 661.3h7.4v7.4h-7.4zM502.7 682.6h7.4v7.4h-7.4zM504.2 675.9h7.4v7.4h-7.4zM505.7 644.8h7.4v7.4h-7.4zM507.2 658.7h7.4v7.4h-7.4zM508.7 668.2h7.4v7.4h-7.4zM510.2 682.6h7.4v7.4h-7.4zM511.7 682.6h7.4v7.4h-7.4zM513.2 682.6h7.4v7.4h-7.4zM514.7 682.6h7.4v7.4h-7.4zM516.2 682.6h7.4v7.4h-7.4zM517.8 682.6h7.4v7.4h-7.4zM519.3 682.6h7.4v7.4h-7.4zM520.8 646.7h7.4v7.4h-7.4zM522.3 673.6h7.4v7.4h-7.4zM523.8 682.6h7.4v7.4h-7.4zM525.3 645.6h7.4v7.4h-7.4zM526.8 682.6h7.4v7.4h-7.4zM528.3 682.6h7.4v7.4h-7.4zM529.8 682.6h7.4v7.4h-7.4zM531.3 682.6h7.4v7.4h-7.4zM532.9 682.6h7.4v7.4h-7.4zM534.4 682.6h7.4v7.4h-7.4zM535.9 682.6h7.4v7.4h-7.4zM537.4 682.6h7.4v7.4h-7.4zM538.9 682.6h7.4v7.4h-7.4zM540.4 682.6h7.4v7.4h-7.4zM541.9 670.6h7.4v7.4h-7.4zM543.4 682.6h7.4v7.4h-7.4zM544.9 682.6h7.4v7.4h-7.4zM546.5 682.6h7.4v7.4h-7.4zM548.0 682.6h7.4v7.4h-7.4zM549.5 682.6h7.4v7.4h-7.4zM551.0 667.4h7.4v7.4h-7.4zM552.5 682.6h7.4v7.4h-7.4zM554.0 682.6h7.4v7.4h-7.4zM555.5 682.6h7.4v7.4h-7.4zM557.0 682.6h7.4v7.4h-7.4zM558.5 682.6h7.4v7.4h-7.4zM560.0 682.6h7.4v7.4h-7.4zM561.6 682.6h7.4v7.4h-7.4zM563.1 682.6h7.4v7.4h-7.4zM564.6 682.6h7.4v7.4h-7.4zM566.1 682.6h7.4v7.4h-7.4zM567.6 682.6h7.4v7.4h-7.4zM569.1 682.6h7.4v7.4h-7.4zM570.6 682.6h7.4v7.4h-7.4zM572.1 682.6h7.4v7.4h-7.4zM573.6 682.6h7.4v7.4h-7.4zM575.2 682.6h7.4v7.4h-7.4zM576.7 682.6h7.4v7.4h-7.4zM578.2 682.6h7.4v7.4h-7.4zM579.7 682.6h7.4v7.4h-7.4zM581.2 682.6h7.4v7.4h-7.4zM582.7 682.6h7.4v7.4h-7.4zM584.2 682.6h7.4v7.4h-7.4zM585.7 682.6h7.4v7.4h-7.4zM587.2 682.6h7.4v7.4h-7.4zM588.7 666.6h7.4v7.4h-7.4zM590.3 682.6h7.4v7.4h-7.4zM591.8 682.6h7.4v7.4h-7.4zM593.3 682.6h7.4v7.4h-7.4zM594.8 682.6h7.4v7.4h-7.4zM596.3 682.6h7.4v7.4h-7.4zM597.8 682.6h7.4v7.4h-7.4zM599.3 682.6h7.4v7.4h-7.4zM600.8 682.6h7.4v7.4h-7.4zM602.3 682.6h7.4v7.4h-7.4zM603.8 682.6h7.4v7.4h-7.4zM605.4 682.6h7.4v7.4h-7.4zM606.9 682.6h7.4v7.4h-7.4zM608.4 682.6h7.4v7.4h-7.4zM609.9 682.6h7.4v7.4h-7.4zM611.4 682.6h7.4v7.4h-7.4zM612.9 682.6h7.4v7.4h-7.4zM614.4 682.6h7.4v7.4h-7.4zM615.9 682.6h7.4v7.4h-7.4zM617.4 682.6h7.4v7.4h-7.4zM619.0 682.6h7.4v7.4h-7.4zM620.5 682.6h7.4v7.4h-7.4zM622.0 682.6h7.4v7.4h-7.4zM623.5 603.3h7.4v7.4h-7.4zM625.0 667.4h7.4v7.4h-7.4zM626.5 682.6h7.4v7.4h-7.4zM628.0 668.8h7.4v7.4h-7.4zM629.5 682.6h7.4v7.4h-7.4zM631.0 682.6h7.4v7.4h-7.4zM632.5 682.6h7.4v7.4h-7.4zM634.1 682.6h7.4v7.4h-7.4zM635.6 682.6h7.4v7.4h-7.4zM637.1 596.6h7.4v7.4h-7.4zM638.6 632.6h7.4v7.4h-7.4zM640.1 682.6h7.4v7.4h-7.4zM641.6 682.6h7.4v7.4h-7.4zM643.1 682.6h7.4v7.4h-7.4zM644.6 682.6h7.4v7.4h-7.4zM646.1 682.6h7.4v7.4h-7.4zM647.7 682.6h7.4v7.4h-7.4zM649.2 658.4h7.4v7.4h-7.4zM650.7 682.6h7.4v7.4h-7.4zM652.2 682.6h7.4v7.4h-7.4zM653.7 682.6h7.4v7.4h-7.4zM655.2 682.6h7.4v7.4h-7.4zM656.7 667.4h7.4v7.4h-7.4zM658.2 682.6h7.4v7.4h-7.4zM659.7 682.6h7.4v7.4h-7.4zM661.2 682.6h7.4v7.4h-7.4zM662.8 682.6h7.4v7.4h-7.4zM664.3 682.6h7.4v7.4h-7.4zM665.8 682.6h7.4v7.4h-7.4zM667.3 682.6h7.4v7.4h-7.4zM668.8 682.6h7.4v7.4h-7.4zM670.3 682.6h7.4v7.4h-7.4zM671.8 682.6h7.4v7.4h-7.4zM673.3 682.6h7.4v7.4h-7.4zM674.8 682.6h7.4v7.4h-7.4zM676.3 682.6h7.4v7.4h-7.4zM677.9 682.6h7.4v7.4h-7.4zM679.4 682.6h7.4v7.4h-7.4zM680.9 682.6h7.4v7.4h-7.4zM682.4 682.6h7.4v7.4h-7.4zM683.9 682.6h7.4v7.4h-7.4zM685.4 682.6h7.4v7.4h-7.4zM686.9 677.3h7.4v7.4h-7.4zM688.4 678.9h7.4v7.4h-7.4zM689.9 678.9h7.4v7.4h-7.4zM691.5 669.3h7.4v7.4h-7.4zM693.0 674.6h7.4v7.4h-7.4zM694.5 673.3h7.4v7.4h-7.4zM696.0 677.3h7.4v7.4h-7.4zM697.5 651.5h7.4v7.4h-7.4zM699.0 659.7h7.4v7.4h-7.4zM700.5 681.0h7.4v7.4h-7.4zM702.0 678.9h7.4v7.4h-7.4zM703.5 682.6h7.4v7.4h-7.4zM705.0 679.9h7.4v7.4h-7.4zM706.6 682.6h7.4v7.4h-7.4zM708.1 678.9h7.4v7.4h-7.4zM709.6 673.3h7.4v7.4h-7.4zM711.1 679.9h7.4v7.4h-7.4zM712.6 679.9h7.4v7.4h-7.4zM714.1 659.7h7.4v7.4h-7.4zM715.6 666.6h7.4v7.4h-7.4zM717.1 682.6h7.4v7.4h-7.4zM718.6 682.6h7.4v7.4h-7.4zM720.2 673.3h7.4v7.4h-7.4zM721.7 682.6h7.4v7.4h-7.4zM723.2 682.6h7.4v7.4h-7.4zM724.7 650.7h7.4v7.4h-7.4zM726.2 677.3h7.4v7.4h-7.4zM727.7 672.0h7.4v7.4h-7.4zM729.2 682.6h7.4v7.4h-7.4zM730.7 681.0h7.4v7.4h-7.4zM732.2 674.6h7.4v7.4h-7.4zM733.7 682.6h7.4v7.4h-7.4zM735.3 681.0h7.4v7.4h-7.4zM736.8 681.0h7.4v7.4h-7.4zM738.3 674.6h7.4v7.4h-7.4zM739.8 682.6h7.4v7.4h-7.4zM741.3 682.6h7.4v7.4h-7.4zM742.8 673.3h7.4v7.4h-7.4zM744.3 679.9h7.4v7.4h-7.4zM745.8 681.0h7.4v7.4h-7.4zM747.3 682.6h7.4v7.4h-7.4zM748.8 677.3h7.4v7.4h-7.4zM750.4 677.3h7.4v7.4h-7.4zM751.9 682.6h7.4v7.4h-7.4zM753.4 679.9h7.4v7.4h-7.4zM754.9 679.9h7.4v7.4h-7.4zM756.4 682.6h7.4v7.4h-7.4zM757.9 583.6h7.4v7.4h-7.4zM759.4 682.6h7.4v7.4h-7.4zM760.9 669.3h7.4v7.4h-7.4zM762.4 679.9h7.4v7.4h-7.4zM764.0 668.0h7.4v7.4h-7.4zM765.5 678.9h7.4v7.4h-7.4zM767.0 682.6h7.4v7.4h-7.4zM768.5 674.6h7.4v7.4h-7.4zM770.0 641.1h7.4v7.4h-7.4zM771.5 682.6h7.4v7.4h-7.4zM773.0 677.3h7.4v7.4h-7.4zM774.5 673.3h7.4v7.4h-7.4zM776.0 682.6h7.4v7.4h-7.4zM777.5 678.9h7.4v7.4h-7.4zM779.1 579.6h7.4v7.4h-7.4zM780.6 682.6h7.4v7.4h-7.4zM782.1 682.6h7.4v7.4h-7.4zM783.6 642.2h7.4v7.4h-7.4zM785.1 681.0h7.4v7.4h-7.4zM786.6 666.6h7.4v7.4h-7.4zM788.1 682.6h7.4v7.4h-7.4zM789.6 674.6h7.4v7.4h-7.4zM791.1 682.6h7.4v7.4h-7.4zM792.7 677.3h7.4v7.4h-7.4zM794.2 672.0h7.4v7.4h-7.4zM795.7 677.3h7.4v7.4h-7.4zM797.2 677.3h7.4v7.4h-7.4zM798.7 682.6h7.4v7.4h-7.4zM800.2 580.9h7.4v7.4h-7.4zM801.7 682.6h7.4v7.4h-7.4zM803.2 682.6h7.4v7.4h-7.4zM804.7 682.6h7.4v7.4h-7.4zM806.2 679.9h7.4v7.4h-7.4zM807.8 673.3h7.4v7.4h-7.4zM809.3 682.6h7.4v7.4h-7.4zM810.8 679.9h7.4v7.4h-7.4zM812.3 672.0h7.4v7.4h-7.4zM813.8 678.9h7.4v7.4h-7.4zM815.3 682.6h7.4v7.4h-7.4zM816.8 682.6h7.4v7.4h-7.4zM818.3 661.3h7.4v7.4h-7.4zM819.8 661.3h7.4v7.4h-7.4zM821.4 678.9h7.4v7.4h-7.4zM822.9 681.0h7.4v7.4h-7.4zM824.4 672.0h7.4v7.4h-7.4zM825.9 677.3h7.4v7.4h-7.4zM827.4 682.6h7.4v7.4h-7.4zM828.9 682.6h7.4v7.4h-7.4zM830.4 679.9h7.4v7.4h-7.4zM831.9 682.6h7.4v7.4h-7.4zM833.4 679.9h7.4v7.4h-7.4zM834.9 651.7h7.4v7.4h-7.4zM836.5 677.3h7.4v7.4h-7.4zM838.0 677.3h7.4v7.4h-7.4zM839.5 678.9h7.4v7.4h-7.4zM841.0 682.6h7.4v7.4h-7.4zM842.5 682.6h7.4v7.4h-7.4zM844.0 682.6h7.4v7.4h-7.4zM845.5 332.1h7.4v7.4h-7.4zM847.0 471.6h7.4v7.4h-7.4zM848.5 678.9h7.4v7.4h-7.4zM850.0 548.5h7.4v7.4h-7.4zM851.6 679.9h7.4v7.4h-7.4zM853.1 677.3h7.4v7.4h-7.4zM854.6 677.3h7.4v7.4h-7.4zM856.1 678.9h7.4v7.4h-7.4zM857.6 675.9h7.4v7.4h-7.4zM859.1 682.6h7.4v7.4h-7.4zM860.6 681.0h7.4v7.4h-7.4zM862.1 508.0h7.4v7.4h-7.4zM863.6 681.0h7.4v7.4h-7.4zM865.2 666.6h7.4v7.4h-7.4zM866.7 681.0h7.4v7.4h-7.4zM868.2 678.9h7.4v7.4h-7.4zM869.7 617.9h7.4v7.4h-7.4zM871.2 677.3h7.4v7.4h-7.4zM872.7 679.9h7.4v7.4h-7.4zM874.2 679.9h7.4v7.4h-7.4zM875.7 656.8h7.4v7.4h-7.4zM877.2 599.3h7.4v7.4h-7.4zM878.7 516.8h7.4v7.4h-7.4zM880.3 682.6h7.4v7.4h-7.4zM881.8 682.6h7.4v7.4h-7.4zM883.3 682.6h7.4v7.4h-7.4zM884.8 675.9h7.4v7.4h-7.4zM886.3 678.9h7.4v7.4h-7.4zM887.8 155.5h7.4v7.4h-7.4zM889.3 677.3h7.4v7.4h-7.4zM890.8 682.6h7.4v7.4h-7.4zM892.3 671.7h7.4v7.4h-7.4zM893.9 570.8h7.4v7.4h-7.4zM895.4 682.6h7.4v7.4h-7.4zM896.9 332.1h7.4v7.4h-7.4zM898.4 679.9h7.4v7.4h-7.4zM899.9 674.6h7.4v7.4h-7.4zM901.4 677.3h7.4v7.4h-7.4zM902.9 682.6h7.4v7.4h-7.4zM904.4 517.4h7.4v7.4h-7.4zM905.9 668.2h7.4v7.4h-7.4zM907.4 511.2h7.4v7.4h-7.4zM909.0 189.8h7.4v7.4h-7.4zM910.5 677.3h7.4v7.4h-7.4zM912.0 435.4h7.4v7.4h-7.4zM913.5 682.6h7.4v7.4h-7.4zM915.0 656.0h7.4v7.4h-7.4zM916.5 621.9h7.4v7.4h-7.4zM918.0 424.7h7.4v7.4h-7.4zM919.5 681.0h7.4v7.4h-7.4zM921.0 675.9h7.4v7.4h-7.4zM922.5 682.6h7.4v7.4h-7.4zM924.1 682.6h7.4v7.4h-7.4zM925.6 682.6h7.4v7.4h-7.4zM927.1 674.6h7.4v7.4h-7.4zM928.6 682.6h7.4v7.4h-7.4zM930.1 682.6h7.4v7.4h-7.4zM931.6 681.0h7.4v7.4h-7.4zM933.1 678.9h7.4v7.4h-7.4zM934.6 669.8h7.4v7.4h-7.4zM936.1 682.6h7.4v7.4h-7.4zM937.7 677.3h7.4v7.4h-7.4zM939.2 682.6h7.4v7.4h-7.4zM940.7 677.3h7.4v7.4h-7.4zM942.2 682.6h7.4v7.4h-7.4zM943.7 682.6h7.4v7.4h-7.4zM945.2 682.6h7.4v7.4h-7.4zM946.7 672.5h7.4v7.4h-7.4zM948.2 682.6h7.4v7.4h-7.4zM949.7 616.3h7.4v7.4h-7.4zM951.2 681.0h7.4v7.4h-7.4zM952.8 682.6h7.4v7.4h-7.4zM954.3 682.6h7.4v7.4h-7.4zM955.8 682.6h7.4v7.4h-7.4zM957.3 414.6h7.4v7.4h-7.4zM958.8 682.6h7.4v7.4h-7.4zM960.3 657.9h7.4v7.4h-7.4zM961.8 677.3h7.4v7.4h-7.4zM963.3 681.0h7.4v7.4h-7.4zM964.8 682.6h7.4v7.4h-7.4zM966.4 679.9h7.4v7.4h-7.4zM967.9 677.3h7.4v7.4h-7.4zM969.4 682.6h7.4v7.4h-7.4zM970.9 677.3h7.4v7.4h-7.4zM972.4 682.6h7.4v7.4h-7.4zM973.9 647.2h7.4v7.4h-7.4zM975.4 681.0h7.4v7.4h-7.4zM976.9 682.6h7.4v7.4h-7.4zM978.4 655.2h7.4v7.4h-7.4zM979.9 682.6h7.4v7.4h-7.4zM981.5 679.9h7.4v7.4h-7.4zM983.0 678.9h7.4v7.4h-7.4zM984.5 682.6h7.4v7.4h-7.4zM986.0 618.7h7.4v7.4h-7.4zM987.5 674.1h7.4v7.4h-7.4zM989.0 677.3h7.4v7.4h-7.4zM990.5 678.9h7.4v7.4h-7.4zM992.0 682.6h7.4v7.4h-7.4zM993.5 679.9h7.4v7.4h-7.4zM995.0 682.6h7.4v7.4h-7.4zM996.6 678.9h7.4v7.4h-7.4zM998.1 682.6h7.4v7.4h-7.4zM999.6 682.6h7.4v7.4h-7.4zM1001.1 679.9h7.4v7.4h-7.4zM1002.6 681.0h7.4v7.4h-7.4zM1004.1 682.6h7.4v7.4h-7.4zM1005.6 451.9h7.4v7.4h-7.4zM1007.1 313.3h7.4v7.4h-7.4zM1008.6 618.7h7.4v7.4h-7.4zM1010.2 677.3h7.4v7.4h-7.4zM1011.7 677.3h7.4v7.4h-7.4zM1013.2 682.6h7.4v7.4h-7.4zM1014.7 592.1h7.4v7.4h-7.4zM1016.2 548.5h7.4v7.4h-7.4zM1017.7 675.9h7.4v7.4h-7.4zM1019.2 679.9h7.4v7.4h-7.4zM1020.7 646.4h7.4v7.4h-7.4zM1022.2 677.3h7.4v7.4h-7.4zM1023.7 681.0h7.4v7.4h-7.4zM1025.3 678.9h7.4v7.4h-7.4zM1026.8 682.6h7.4v7.4h-7.4zM1028.3 678.9h7.4v7.4h-7.4zM1029.8 682.6h7.4v7.4h-7.4zM1031.3 682.6h7.4v7.4h-7.4zM1032.8 677.3h7.4v7.4h-7.4zM1034.3 679.9h7.4v7.4h-7.4zM1035.8 677.3h7.4v7.4h-7.4zM1037.3 682.6h7.4v7.4h-7.4zM1038.9 679.9h7.4v7.4h-7.4zM1040.4 677.3h7.4v7.4h-7.4zM1041.9 678.9h7.4v7.4h-7.4zM1043.4 678.9h7.4v7.4h-7.4zM1044.9 682.6h7.4v7.4h-7.4zM1046.4 679.9h7.4v7.4h-7.4zM1047.9 682.6h7.4v7.4h-7.4zM1049.4 682.6h7.4v7.4h-7.4zM1050.9 667.4h7.4v7.4h-7.4zM1052.4 678.9h7.4v7.4h-7.4zM1054.0 660.2h7.4v7.4h-7.4zM1055.5 461.7h7.4v7.4h-7.4zM1057.0 650.7h7.4v7.4h-7.4zM1058.5 677.3h7.4v7.4h-7.4zM1060.0 677.3h7.4v7.4h-7.4zM1061.5 682.6h7.4v7.4h-7.4zM1063.0 621.9h7.4v7.4h-7.4zM1064.5 682.6h7.4v7.4h-7.4zM1066.0 677.3h7.4v7.4h-7.4zM1067.5 682.6h7.4v7.4h-7.4zM1069.1 682.6h7.4v7.4h-7.4zM1070.6 681.0h7.4v7.4h-7.4zM1072.1 595.3h7.4v7.4h-7.4zM1073.6 674.1h7.4v7.4h-7.4zM1075.1 682.6h7.4v7.4h-7.4zM1076.6 682.6h7.4v7.4h-7.4zM1078.1 682.6h7.4v7.4h-7.4zM1079.6 659.4h7.4v7.4h-7.4zM1081.1 682.6h7.4v7.4h-7.4zM1082.7 682.6h7.4v7.4h-7.4zM1084.2 682.6h7.4v7.4h-7.4zM1085.7 682.6h7.4v7.4h-7.4zM1087.2 682.6h7.4v7.4h-7.4zM1088.7 674.1h7.4v7.4h-7.4zM1090.2 682.6h7.4v7.4h-7.4zM1091.7 682.6h7.4v7.4h-7.4zM1093.2 682.6h7.4v7.4h-7.4zM1094.7 682.6h7.4v7.4h-7.4zM1096.2 682.6h7.4v7.4h-7.4zM1097.8 682.6h7.4v7.4h-7.4zM1099.3 682.6h7.4v7.4h-7.4zM1100.8 682.6h7.4v7.4h-7.4zM1102.3 677.3h7.4v7.4h-7.4zM1103.8 682.6h7.4v7.4h-7.4zM1105.3 682.6h7.4v7.4h-7.4zM1106.8 682.6h7.4v7.4h-7.4zM1108.3 682.6h7.4v7.4h-7.4zM1109.8 679.9h7.4v7.4h-7.4zM1111.4 662.6h7.4v7.4h-7.4zM1112.9 682.6h7.4v7.4h-7.4zM1114.4 682.6h7.4v7.4h-7.4zM1115.9 682.6h7.4v7.4h-7.4zM1117.4 682.6h7.4v7.4h-7.4zM1118.9 682.6h7.4v7.4h-7.4zM1120.4 682.6h7.4v7.4h-7.4zM1121.9 631.0h7.4v7.4h-7.4zM1123.4 682.6h7.4v7.4h-7.4zM1124.9 664.2h7.4v7.4h-7.4zM1126.5 682.6h7.4v7.4h-7.4zM1128.0 682.6h7.4v7.4h-7.4zM1129.5 682.6h7.4v7.4h-7.4zM1131.0 672.5h7.4v7.4h-7.4zM1132.5 682.6h7.4v7.4h-7.4zM1134.0 682.6h7.4v7.4h-7.4zM1135.5 682.6h7.4v7.4h-7.4zM1137.0 682.6h7.4v7.4h-7.4zM1138.5 682.6h7.4v7.4h-7.4zM1140.0 682.6h7.4v7.4h-7.4zM1141.6 682.6h7.4v7.4h-7.4zM1143.1 682.6h7.4v7.4h-7.4zM1144.6 682.6h7.4v7.4h-7.4zM1146.1 682.6h7.4v7.4h-7.4zM1147.6 682.6h7.4v7.4h-7.4zM1149.1 682.6h7.4v7.4h-7.4zM1150.6 682.6h7.4v7.4h-7.4zM1152.1 682.6h7.4v7.4h-7.4zM1153.6 682.6h7.4v7.4h-7.4zM1155.2 682.6h7.4v7.4h-7.4zM1156.7 677.3h7.4v7.4h-7.4zM1158.2 682.6h7.4v7.4h-7.4zM1159.7 682.6h7.4v7.4h-7.4zM1161.2 677.3h7.4v7.4h-7.4zM1162.7 682.6h7.4v7.4h-7.4zM1164.2 675.9h7.4v7.4h-7.4zM1165.7 682.6h7.4v7.4h-7.4zM1167.2 682.6h7.4v7.4h-7.4zM1168.7 677.3h7.4v7.4h-7.4zM1170.3 682.6h7.4v7.4h-7.4zM1171.8 611.6h7.4v7.4h-7.4zM1173.3 682.6h7.4v7.4h-7.4zM1174.8 682.6h7.4v7.4h-7.4zM1176.3 682.6h7.4v7.4h-7.4z" fill="#000"/>
<polyline points="569.2,685.5 587.0,679.3 603.5,674.0 611.3,666.0 618.0,657.0 625.0,649.0 631.0,647.2 700.0,647.0 740.5,647.4" fill="none" stroke="#ff0000" stroke-width="8.6" stroke-linejoin="round" stroke-linecap="round"/>
<polyline points="741.4,636.8 785.3,636.8" fill="none" stroke="#ff0000" stroke-width="8.6" stroke-linejoin="round" stroke-linecap="round"/>
<polyline points="786.6,616.6 805.4,616.6" fill="none" stroke="#ff0000" stroke-width="8.6" stroke-linejoin="round" stroke-linecap="round"/>
<circle cx="808.5" cy="641.6" r="4.3" fill="#ff0000"/>
<polyline points="812.5,592.8 1179.3,592.6" fill="none" stroke="#ff0000" stroke-width="8.6" stroke-linejoin="round" stroke-linecap="round"/>
<polyline points="575.5,685.9 576.0,662.8 579.3,657.3 582.6,663.9 585.9,660.0 587.0,647.0" fill="none" stroke="#5050ff" stroke-width="1.2"/>
<path d="M575.5 680.5L580.7 689.5L570.3 689.5ZM576.0 657.4L581.2 666.4L570.8 666.4ZM579.3 651.9L584.5 660.9L574.1 660.9ZM582.6 658.5L587.8 667.5L577.4 667.5ZM585.9 654.6L591.1 663.6L580.7 663.6ZM579.5 658.6L584.7 667.6L574.3 667.6ZM578.0 654.6L583.2 663.6L572.8 663.6ZM584.0 651.6L589.2 660.6L578.8 660.6ZM586.5 641.1L591.7 650.1L581.3 650.1ZM588.5 634.6L593.7 643.6L583.3 643.6ZM590.3 629.1L595.5 638.1L585.1 638.1ZM593.5 622.6L598.7 631.6L588.3 631.6ZM597.0 616.6L602.2 625.6L591.8 625.6ZM601.0 613.1L606.2 622.1L595.8 622.1ZM605.5 610.1L610.7 619.1L600.3 619.1ZM611.3 606.2L616.5 615.2L606.1 615.2Z" fill="#0000ff"/>
<polyline points="587.0,645.0 590.3,634.5 597.0,622.0 604.0,616.5 611.3,611.6 614.0,611.3 700.0,610.8 900.0,609.5 1179.0,609.8" fill="none" stroke="#0000ff" stroke-width="8" stroke-linejoin="round" stroke-linecap="round"/>
<polyline points="586.3,684.0 592.0,681.0 598.0,686.0 604.0,679.0 610.0,684.0 616.0,680.0 622.0,685.0 628.0,681.0 634.0,686.0 640.0,682.0 645.0,683.0" fill="none" stroke="#ff00ff" stroke-width="1.2"/>
<path d="M586.3 689.2L591.3 680.5L581.3 680.5ZM592.0 686.2L597.0 677.5L587.0 677.5ZM598.0 691.2L603.0 682.5L593.0 682.5ZM604.0 684.2L609.0 675.5L599.0 675.5ZM610.0 689.2L615.0 680.5L605.0 680.5ZM616.0 685.2L621.0 676.5L611.0 676.5ZM622.0 690.2L627.0 681.5L617.0 681.5ZM628.0 686.2L633.0 677.5L623.0 677.5ZM634.0 691.2L639.0 682.5L629.0 682.5ZM640.0 687.2L645.0 678.5L635.0 678.5ZM645.0 688.2L650.0 679.5L640.0 679.5Z" fill="#ff00ff"/>
<path d="M584 681L600 680L620 678L650 674L652 682L648 689L620 690L590 690.5L583 688Z" fill="#ff00ff"/>
<polyline points="646.0,632.2 660.0,627.5 700.0,628.2 898.0,627.9" fill="none" stroke="#ff00ff" stroke-width="8.6" stroke-linejoin="round" stroke-linecap="round"/>
<polyline points="902.0,617.5 1016.6,617.6" fill="none" stroke="#ff00ff" stroke-width="8.6" stroke-linejoin="round" stroke-linecap="round"/>
<polyline points="1020.0,606.3 1178.0,606.3" fill="none" stroke="#ff00ff" stroke-width="8.6" stroke-linejoin="round" stroke-linecap="round"/>
<path d="M1177 601.9H1185L1180.5 606L1185 610H1177Z" fill="#ff00ff"/>
<polyline points="559.5,685.0 560.3,639.5 561.1,644.4 565.2,612.0 566.5,609.0 568.4,607.1 570.8,587.6 572.3,583.0 574.1,577.9 576.5,560.8 577.8,557.0 579.8,549.9 581.5,546.0 583.8,537.2 586.1,526.8 586.8,522.0" fill="none" stroke="#40a040" stroke-width="1.2"/>
<path d="M559.5 679.7L564.5 685.0L559.5 690.3L554.5 685.0ZM560.3 634.2L565.3 639.5L560.3 644.8L555.3 639.5ZM561.1 639.1L566.1 644.4L561.1 649.7L556.1 644.4ZM565.2 606.7L570.2 612.0L565.2 617.3L560.2 612.0ZM566.5 603.7L571.5 609.0L566.5 614.3L561.5 609.0ZM568.4 601.8L573.4 607.1L568.4 612.4L563.4 607.1ZM570.8 582.3L575.8 587.6L570.8 592.9L565.8 587.6ZM572.3 577.7L577.3 583.0L572.3 588.3L567.3 583.0ZM574.1 572.6L579.1 577.9L574.1 583.2L569.1 577.9ZM576.5 555.5L581.5 560.8L576.5 566.1L571.5 560.8ZM577.8 551.7L582.8 557.0L577.8 562.3L572.8 557.0ZM579.8 544.6L584.8 549.9L579.8 555.2L574.8 549.9ZM581.5 540.7L586.5 546.0L581.5 551.3L576.5 546.0ZM583.8 531.9L588.8 537.2L583.8 542.5L578.8 537.2ZM586.1 521.5L591.1 526.8L586.1 532.1L581.1 526.8ZM586.8 516.7L591.8 522.0L586.8 527.3L581.8 522.0Z" fill="#007f00"/>
<polyline points="587.3,511.1 596.0,495.5 617.0,495.3" fill="none" stroke="#007f00" stroke-width="9" stroke-linejoin="round" stroke-linecap="round"/>
<polyline points="621.0,490.0 644.0,490.0" fill="none" stroke="#007f00" stroke-width="8.5" stroke-linejoin="round" stroke-linecap="round"/>
<polyline points="648.0,485.0 700.0,483.8 877.0,484.8" fill="none" stroke="#007f00" stroke-width="9.5" stroke-linejoin="round" stroke-linecap="round"/>
<polyline points="877.3,483.0 1040.0,483.1" fill="none" stroke="#007f00" stroke-width="9.5" stroke-linejoin="round" stroke-linecap="round"/>
<polyline points="1041.0,481.0 1180.0,481.5" fill="none" stroke="#007f00" stroke-width="9.5" stroke-linejoin="round" stroke-linecap="round"/>
<path d="M1180 476.5L1185.5 481.5L1180 486.5Z" fill="#007f00"/>
<rect x="379.2" y="160.8" width="22.8" height="551.6" fill="url(#hatchA)" style="mix-blend-mode:multiply"/>
<rect x="379.2" y="160.8" width="22.8" height="551.6" fill="url(#hatchB)"/>
<rect x="756.7" y="236.3" width="51.4" height="476.1" fill="url(#hatchA)" style="mix-blend-mode:multiply"/>
<rect x="756.7" y="236.3" width="51.4" height="476.1" fill="url(#hatchB)"/>
<line x1="173.8" y1="236.3" x2="173.8" y2="713.4" stroke="#1414a8" stroke-width="2.0" stroke-dasharray="12.5 6.3"/>
<line x1="379.2" y1="160.8" x2="379.2" y2="713.4" stroke="#d02a3a" stroke-width="1.7" stroke-dasharray="12.5 6.3"/>
<line x1="402.0" y1="160.8" x2="402.0" y2="713.4" stroke="#d02a3a" stroke-width="1.7" stroke-dasharray="12.5 6.3"/>
<line x1="453.7" y1="236.5" x2="453.7" y2="713.4" stroke="#d02a3a" stroke-width="1.7" stroke-dasharray="12.5 6.3"/>
<line x1="473.0" y1="236.5" x2="473.0" y2="713.4" stroke="#1414a8" stroke-width="2.0" stroke-dasharray="12.5 6.3"/>
<line x1="504.2" y1="367.1" x2="504.2" y2="713.4" stroke="#d02a3a" stroke-width="1.7" stroke-dasharray="12.5 6.3"/>
<line x1="612.1" y1="468.3" x2="612.1" y2="713.4" stroke="#d02a3a" stroke-width="1.7" stroke-dasharray="12.5 6.3"/>
<line x1="706.3" y1="123.0" x2="706.3" y2="713.4" stroke="#d02a3a" stroke-width="1.7" stroke-dasharray="12.5 6.3"/>
<line x1="746.6" y1="188.8" x2="746.6" y2="713.4" stroke="#d02a3a" stroke-width="1.7" stroke-dasharray="12.5 6.3"/>
<line x1="756.7" y1="236.3" x2="756.7" y2="713.4" stroke="#1414a8" stroke-width="2.0" stroke-dasharray="12.5 6.3"/>
<line x1="808.1" y1="188.8" x2="808.1" y2="713.4" stroke="#d02a3a" stroke-width="1.7" stroke-dasharray="12.5 6.3"/>
<line x1="1079.7" y1="236.5" x2="1079.7" y2="713.4" stroke="#1414a8" stroke-width="2.0" stroke-dasharray="12.5 6.3"/>
<line x1="174" y1="236.5" x2="1079.7" y2="236.5" stroke="#d0d0d0" stroke-width="1.2"/>
<line x1="795" y1="236.5" x2="1065" y2="236.5" stroke="#444" stroke-width="1.4"/>
<path d="M173.8 236.5L190.3 232.0L190.3 241.0Z" fill="#000"/>
<path d="M402 236.5L385.5 232.0L385.5 241.0Z" fill="#000"/>
<path d="M402 236.5L418.5 232.0L418.5 241.0Z" fill="#000"/>
<path d="M473 236.5L456.5 232.0L456.5 241.0Z" fill="#000"/>
<path d="M473 236.5L489.5 232.0L489.5 241.0Z" fill="#000"/>
<path d="M756.7 236.5L740.2 232.0L740.2 241.0Z" fill="#000"/>
<path d="M756.7 236.5L773.2 232.0L773.2 241.0Z" fill="#000"/>
<path d="M1079.7 236.5L1063.2 232.0L1063.2 241.0Z" fill="#000"/>
<path d="M384.5 162.3L390 159.6L390.5 162.3L390 165Z M396.5 162.3L391 159.6L390.5 162.3L391 165Z" fill="#000"/>
<line x1="384.5" y1="162.3" x2="396.5" y2="162.3" stroke="#000" stroke-width="2.2"/>
<text x="399.8" y="29.6" class="an">raining from July 30 to August12</text>
<polyline points="384.7,160.8 398.8,39.6 737.5,39.6" fill="none" stroke="#222" stroke-width="1.3"/>
<text x="437.4" y="69.9" class="an">Landslide occured</text>
<text x="472.7" y="100" class="an">(August 11)</text>
<polyline points="402.5,194.9 450.2,106.9 610.5,106.9" fill="none" stroke="#222" stroke-width="1.3"/>
<text x="491.9" y="140.5" class="an">Superficial sliding</text>
<text x="512" y="169.3" class="an">of trailing edge</text>
<polyline points="453.9,236.5 504,147.2 664.3,147.2" fill="none" stroke="#222" stroke-width="1.3"/>
<text x="209.4" y="226.4" class="an">70.3% of the</text>
<text x="199.8" y="255.8" class="an">annual rainfall</text>
<text x="415.6" y="223.5" class="an">20%</text>
<text x="539.8" y="230.1" class="an">Dry season</text>
<text x="542.8" y="259.1" class="an">(2.6mm/d)</text>
<text x="525.1" y="324.1" class="an">Central rock</text>
<text x="525.8" y="353.8" class="an">mass cracked</text>
<polyline points="504.2,367.1 524,331.4 684.8,331.4" fill="none" stroke="#222" stroke-width="1.3"/>
<text x="547.8" y="432.2" class="an">Gradually</text>
<text x="553.8" y="460.6" class="an">stabilized</text>
<text x="781.8" y="43.6" class="an">Deep drain hole completed (March 1)</text>
<polyline points="706.5,123.0 784,54.7 1170.3,54.7" fill="none" stroke="#222" stroke-width="1.3"/>
<text x="867.0" y="78.4" class="an">Trailing edge unloading of 10,000</text>
<text x="835.6" y="107.5" class="an">cubic meters + slope closure (March 26)</text>
<polyline points="746.6,188.8 835.6,85.1 1250,85.1" fill="none" stroke="#222" stroke-width="1.3"/>
<text x="834.3" y="145.6" class="an">Central displacement increased sharply</text>
<text x="981.2" y="173.7" class="an">(ZK2-3, April 30)</text>
<polyline points="808.1,188.8 832.5,152.3 1237.5,152.3" fill="none" stroke="#222" stroke-width="1.3"/>
<text x="914" y="226" class="an">85% of</text>
<text x="858" y="255.4" class="an">the&#160; annual rainfall</text>
<rect x="94.2" y="25.8" width="251.2" height="148.5" fill="#fff" stroke="#444" stroke-width="1.3"/>
<rect x="172.6" y="30.4" width="169.1" height="143.1" fill="none" stroke="#444" stroke-width="1.3"/>
<line x1="116.6" y1="49.9" x2="167.4" y2="49.9" stroke="#707070" stroke-width="1.7"/>
<rect x="138.2" y="46.1" width="7.6" height="7.6" fill="#000"/>
<text x="174.8" y="56.0" class="lg">24h rainfall</text>
<line x1="116.6" y1="77.6" x2="167.4" y2="77.6" stroke="#e86070" stroke-width="1.7"/>
<circle cx="142" cy="77.6" r="4.3" fill="#f00"/>
<text x="174.8" y="83.7" class="lg">ZK2-3 H=831m</text>
<line x1="116.6" y1="105.3" x2="167.4" y2="105.3" stroke="#6868f0" stroke-width="1.7"/>
<path d="M142 100.3L146.8 108.8L137.2 108.8Z" fill="#00f"/>
<text x="174.8" y="111.4" class="lg">ZK2-4 H=807m</text>
<line x1="116.6" y1="133.4" x2="167.4" y2="133.4" stroke="#f070f0" stroke-width="1.7"/>
<path d="M142 138.4L146.8 129.9L137.2 129.9Z" fill="#f0f"/>
<text x="174.8" y="139.5" class="lg">ZK2-5 H=800m</text>
<line x1="116.6" y1="161.0" x2="167.4" y2="161.0" stroke="#50a050" stroke-width="1.7"/>
<path d="M142 155.8L147.2 161.0L142 166.2L136.8 161.0Z" fill="#080"/>
<text x="174.8" y="167.1" class="lg">ZK2-6 H=763m</text>
</svg></body></html>
